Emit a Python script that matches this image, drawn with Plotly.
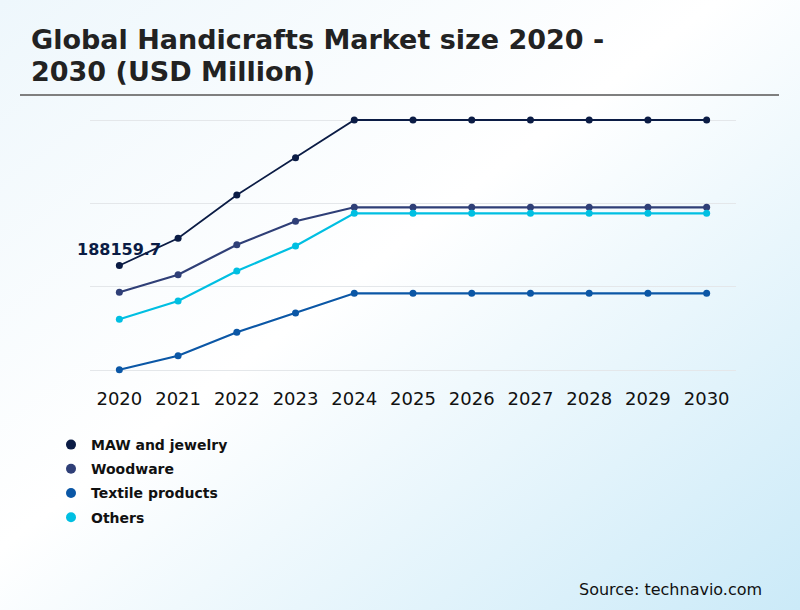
import base64
import plotly.graph_objects as go

years = ["2020", "2021", "2022", "2023", "2024", "2025",
         "2026", "2027", "2028", "2029", "2030"]

maw_jewelry = [188159.7, 237000, 315000, 382000, 450000, 450000,
               450000, 450000, 450000, 450000, 450000]
woodware = [139900, 171500, 225500, 267700, 292900, 292900,
            292900, 292900, 292900, 292900, 292900]
textile = [500, 25700, 67900, 102600, 138100, 138100,
           138100, 138100, 138100, 138100, 138100]
others = [91300, 124200, 178200, 223200, 282100, 282100,
          282100, 282100, 282100, 282100, 282100]

series = [
    ("MAW and jewelry", maw_jewelry, "#0b1c45", 1.8),
    ("Woodware", woodware, "#2f3f77", 2.2),
    ("Textile products", textile, "#0b57a6", 2.2),
    ("Others", others, "#00bfe2", 2.2),
]

W, H = 800, 610


def px_x(p):
    return p / W


def px_y(p):
    return 1 - p / H


# soft diagonal background
svg = (
    '<svg xmlns="http://www.w3.org/2000/svg" width="800" height="610">'
    '<defs><linearGradient id="g" x1="0" y1="0" x2="1" y2="1">'
    '<stop offset="0" stop-color="#eef7fc"/>'
    '<stop offset="0.45" stop-color="#ffffff"/>'
    '<stop offset="1" stop-color="#cbeaf8"/>'
    '</linearGradient></defs>'
    '<rect width="800" height="610" fill="url(#g)"/></svg>'
)
bg_uri = "data:image/svg+xml;base64," + base64.b64encode(svg.encode()).decode()

fig = go.Figure()

order = [0, 1, 3, 2]
for i in order:
    name, vals, color, lw = series[i]
    fig.add_trace(go.Scatter(
        x=years, y=vals, mode="lines+markers", name=name,
        line=dict(color=color, width=lw),
        marker=dict(color=color, size=7),
        cliponaxis=False, showlegend=False,
    ))

# legend entries: dots only
for k, (name, vals, color, lw) in enumerate(series):
    fig.add_trace(go.Scatter(
        x=[None], y=[None], mode="markers", name="<b>%s</b>" % name,
        marker=dict(color=color, size=10),
        legendgroup="g%d" % k, legendrank=k + 1,
    ))

# value label on the first point (category index 0 = 2020)
fig.add_annotation(
    x=0, y=maw_jewelry[0], text="<b>%s</b>" % maw_jewelry[0],
    showarrow=False, yshift=16,
    font=dict(family="DejaVu Sans", size=16, color="#0b1c45"),
)

title_font = dict(family="DejaVu Sans", size=27, color="#222222")
fig.add_annotation(
    xref="paper", yref="paper", x=px_x(29), y=px_y(40),
    xanchor="left", yanchor="middle", showarrow=False,
    text="<b>Global Handicrafts Market size 2020 -</b>", font=title_font,
)
fig.add_annotation(
    xref="paper", yref="paper", x=px_x(29), y=px_y(71),
    xanchor="left", yanchor="middle", showarrow=False,
    text="<b>2030 (USD Million)</b>", font=title_font,
)
fig.add_annotation(
    xref="paper", yref="paper", x=px_x(764), y=px_y(589),
    xanchor="right", yanchor="middle", showarrow=False,
    text="Source: technavio.com",
    font=dict(family="DejaVu Sans", size=16, color="#111111"),
)

fig.add_shape(
    type="line", xref="paper", yref="paper",
    x0=px_x(20), x1=px_x(779), y0=px_y(95), y1=px_y(95),
    line=dict(color="#7f7f7f", width=2),
)

fig.update_layout(
    width=W, height=H,
    margin=dict(l=0, r=0, t=0, b=0),
    paper_bgcolor="white",
    plot_bgcolor="rgba(0,0,0,0)",
    images=[dict(
        source=bg_uri, xref="paper", yref="paper",
        x=0, y=1, sizex=1, sizey=1, xanchor="left", yanchor="top",
        sizing="stretch", layer="below",
    )],
    font=dict(family="DejaVu Sans", color="#111111"),
    xaxis=dict(
        type="category", range=[-0.5, 10.5],
        domain=[px_x(90), px_x(736)],
        showgrid=False, zeroline=False, showline=False, ticks="",
        tickfont=dict(size=18, color="#111111"),
        ticklabelstandoff=8,
    ),
    yaxis=dict(
        range=[-15000, 465000], dtick=150000, tick0=0,
        domain=[px_y(378.33), px_y(111.67)],
        showticklabels=False, showgrid=True, gridcolor="#e4e7ea",
        gridwidth=1, zeroline=True, zerolinecolor="#e4e7ea",
        zerolinewidth=1, showline=False, ticks="",
    ),
    legend=dict(
        x=px_x(51), y=px_y(429), xanchor="left", yanchor="top",
        orientation="v", bgcolor="rgba(0,0,0,0)",
        font=dict(family="DejaVu Sans", size=14, color="#111111"),
        tracegroupgap=3, traceorder="grouped",
    ),
)

fig.write_html("out.html", config={"displayModeBar": False},
               post_script="document.body.style.margin='0';")
